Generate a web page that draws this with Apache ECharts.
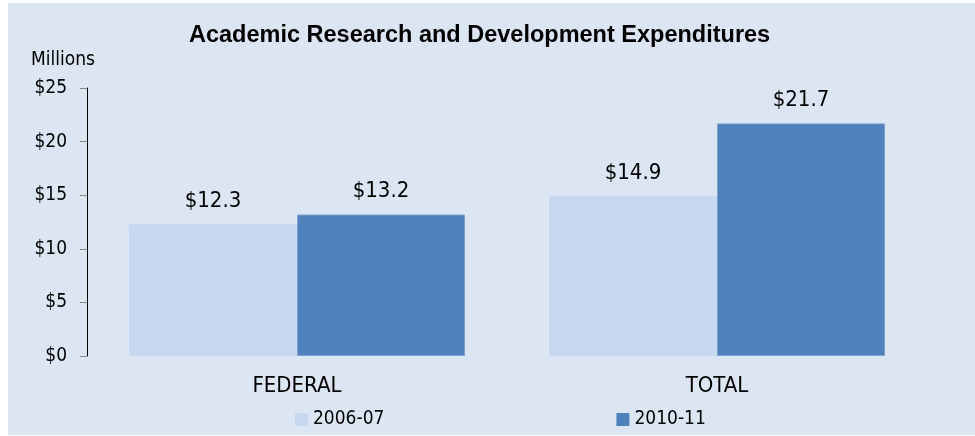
<!DOCTYPE html>
<html>
<head>
<meta charset="utf-8">
<script src="https://cdn.jsdelivr.net/npm/echarts@6/dist/echarts.min.js"></script>
<style>
  html, body { margin: 0; padding: 0; background: #fff; }
  #frame { position: absolute; left: 8px; top: 3px; width: 967px; height: 432px; background: #DCE6F2; }
  #chart { position: absolute; left: 0; top: 0; width: 975px; height: 436px; }
</style>
</head>
<body>
<div id="frame"></div>
<div id="chart"></div>
<script>
const categories = ['FEDERAL', 'TOTAL'];
const seriesNames = ['2006-07', '2010-11'];
const values0607 = [12.3, 14.9];
const values1011 = [13.2, 21.7];
const yTicks = [0, 5, 10, 15, 20, 25];

const font = '"Liberation Sans Narrow", "Arial Narrow", "DejaVu Sans Condensed", sans-serif';
const chart = echarts.init(document.getElementById('chart'));

const valueLabel = {
  show: true,
  position: 'top',
  distance: 12,
  fontFamily: font,
  fontSize: 22,
  color: '#000',
  formatter: p => '$' + p.value.toFixed(1)
};

chart.setOption({
  animation: false,
  backgroundColor: 'transparent',
  title: {
    text: 'Academic Research and Development Expenditures',
    left: 184,
    top: 19,
    textStyle: { fontFamily: 'Liberation Sans, Arial, sans-serif', fontWeight: 'bold', fontSize: 23.5, color: '#000' }
  },
  grid: { left: 87, right: 48, top: 88, bottom: 80 },
  legend: {
    data: seriesNames,
    left: 290,
    top: 405,
    itemWidth: 13,
    itemHeight: 13,
    itemGap: 232,
    icon: 'rect',
    itemStyle: { borderWidth: 0 },
    textStyle: { fontFamily: font, fontSize: 19, color: '#000' }
  },
  xAxis: {
    type: 'category',
    data: categories,
    axisLine: { show: false },
    axisTick: { show: false },
    axisLabel: { fontFamily: font, fontSize: 22, color: '#000', margin: 19 }
  },
  yAxis: {
    type: 'value',
    min: yTicks[0],
    max: yTicks[yTicks.length - 1],
    interval: 5,
    name: 'Millions',
    nameLocation: 'end',
    nameGap: 18,
    nameTextStyle: { fontFamily: font, fontSize: 19, color: '#000', align: 'right', padding: [0, -8, 0, 0] },
    axisLine: { show: true, lineStyle: { color: '#000', width: 1 } },
    axisTick: { show: true, inside: false, length: 7, lineStyle: { color: '#888' } },
    splitLine: { show: false },
    axisLabel: { fontFamily: font, fontSize: 19, color: '#000', margin: 20, formatter: v => '$' + v }
  },
  series: [
    {
      name: seriesNames[0],
      type: 'bar',
      data: values0607,
      barGap: '0%',
      barCategoryGap: '20%',
      itemStyle: { color: '#C6D9F1' },
      label: valueLabel
    },
    {
      name: seriesNames[1],
      type: 'bar',
      data: values1011,
      itemStyle: { color: '#4F81BD', borderColor: '#7FA3D0', borderWidth: 1 },
      label: valueLabel
    }
  ]
});
</script>
</body>
</html>
